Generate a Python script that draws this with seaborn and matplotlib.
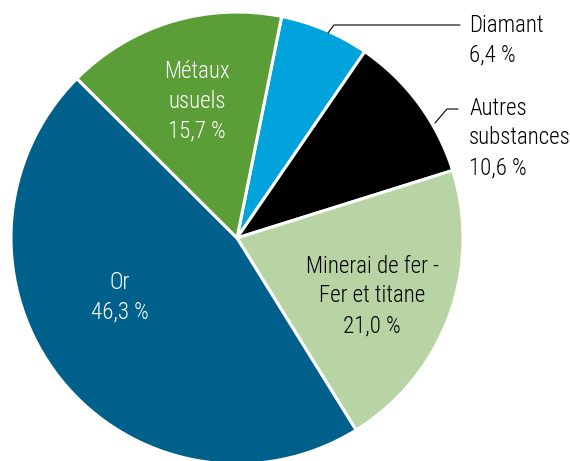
import matplotlib
matplotlib.use("Agg")
import matplotlib.pyplot as plt
import seaborn as sns
from matplotlib import font_manager

labels = ["Diamant", "Autres substances", "Minerai de fer - Fer et titane", "Or", "Métaux usuels"]
values = [6.4, 10.6, 21.0, 46.3, 15.7]
pct_text = ["6,4 %", "10,6 %", "21,0 %", "46,3 %", "15,7 %"]
colors = ["#00a3dc", "#000000", "#b8d4a5", "#00608c", "#5b9e37"]

sns.set_theme(style="white")
names = {f.name for f in font_manager.fontManager.ttflist}
fs = 14
for cand, size in [("Roboto Condensed", 16.5), ("Liberation Sans Narrow", 16.5), ("Open Sans Condensed", 16.5)]:
    if cand in names:
        family = cand
        fs = size
        break
else:
    family = "Liberation Sans"
plt.rcParams['font.family'] = [family, 'DejaVu Sans']
fw = 'light'

fig = plt.figure(figsize=(5.70, 4.61), dpi=100)
ax = fig.add_axes([0, 0, 1, 1])

cx, cy, r = 237, 461 - 238, 226
ax.pie(values, colors=sns.color_palette(colors), startangle=78.6, counterclock=False,
       center=(cx, cy), radius=r, frame=True,
       wedgeprops=dict(edgecolor='white', linewidth=2.2))
ax.set_aspect('equal')
ax.set_xlim(0, 570)
ax.set_ylim(0, 461)
ax.axis('off')

ls = 1.38
def H(y):
    return 461 - y

# Inside labels
ax.text(197, H(101), "Métaux\nusuels\n" + pct_text[4], color='white', fontsize=fs,
        fontweight=fw, ha='center', va='center', linespacing=ls)
ax.text(120, H(297), "Or\n" + pct_text[3], color='white', fontsize=fs,
        fontweight=fw, ha='center', va='center', linespacing=ls)
ax.text(372, H(296), "Minerai de fer -\nFer et titane\n" + pct_text[2], color='black', fontsize=fs,
        fontweight=fw, ha='center', va='center', linespacing=ls)

# Outside labels with leader lines
ax.plot([328, 334, 460], [H(33), H(25), H(25)], color='black', lw=0.8)
ax.text(469, H(40), "Diamant\n" + pct_text[0], color='black', fontsize=fs,
        fontweight=fw, ha='left', va='center', linespacing=ls)
ax.plot([435, 447, 458], [H(123), H(109), H(109)], color='black', lw=0.8)
ax.text(469, H(138), "Autres\nsubstances\n" + pct_text[1], color='black', fontsize=fs,
        fontweight=fw, ha='left', va='center', linespacing=ls)

fig.savefig("out.png", dpi=100)
